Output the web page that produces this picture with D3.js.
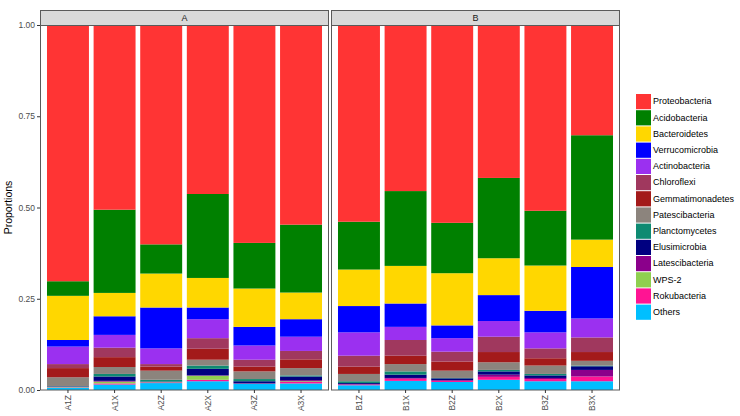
<!DOCTYPE html>
<html>
<head>
<meta charset="utf-8">
<script src="https://cdn.jsdelivr.net/npm/d3@7"></script>
<style>
  body { margin: 0; background: #fff; }
  svg { font-family: "Liberation Sans", Arial, sans-serif; }
</style>
</head>
<body>
<svg id="chart" width="740" height="416"></svg>
<script>
// --- DATA ---
const samples = ["A1Z", "A1X", "A2Z", "A2X", "A3Z", "A3X", "B1Z", "B1X", "B2Z", "B2X", "B3Z", "B3X"];
const facets = ["A", "B"];
const yTicks = [0, 0.25, 0.5, 0.75, 1];

// legend order (top of stack first)
const phyla = ["Proteobacteria", "Acidobacteria", "Bacteroidetes", "Verrucomicrobia", "Actinobacteria",
  "Chloroflexi", "Gemmatimonadetes", "Patescibacteria", "Planctomycetes", "Elusimicrobia",
  "Latescibacteria", "WPS-2", "Rokubacteria", "Others"];

const proteobacteria   = [0.702, 0.506, 0.601, 0.463, 0.597, 0.547, 0.539, 0.455, 0.542, 0.419, 0.509, 0.302];
const acidobacteria    = [0.040, 0.228, 0.080, 0.230, 0.125, 0.186, 0.131, 0.205, 0.138, 0.220, 0.150, 0.286];
const bacteroidetes    = [0.121, 0.064, 0.093, 0.081, 0.105, 0.073, 0.100, 0.103, 0.143, 0.101, 0.124, 0.075];
const verrucomicrobia  = [0.018, 0.051, 0.112, 0.032, 0.051, 0.048, 0.072, 0.064, 0.035, 0.071, 0.059, 0.141];
const actinobacteria   = [0.048, 0.035, 0.043, 0.052, 0.039, 0.039, 0.064, 0.036, 0.037, 0.043, 0.044, 0.052];
const chloroflexi      = [0.011, 0.026, 0.007, 0.029, 0.019, 0.023, 0.030, 0.043, 0.027, 0.042, 0.027, 0.040];
const gemmatimonadetes = [0.025, 0.027, 0.011, 0.030, 0.013, 0.024, 0.020, 0.023, 0.025, 0.028, 0.020, 0.024];
const patescibacteria  = [0.024, 0.019, 0.025, 0.016, 0.021, 0.020, 0.020, 0.020, 0.020, 0.021, 0.023, 0.013];
const planctomycetes   = [0.001, 0.007, 0.005, 0.009, 0.006, 0.003, 0.005, 0.009, 0.001, 0.004, 0.004, 0.002];
const elusimicrobia    = [0.001, 0.012, 0.001, 0.018, 0.006, 0.010, 0.003, 0.009, 0.005, 0.009, 0.007, 0.010];
const latescibacteria  = [0.001, 0.002, 0.001, 0.001, 0.000, 0.003, 0.001, 0.002, 0.002, 0.006, 0.003, 0.018];
const wps2             = [0.001, 0.005, 0.001, 0.011, 0.000, 0.002, 0.000, 0.000, 0.000, 0.000, 0.000, 0.000];
const rokubacteria     = [0.001, 0.003, 0.001, 0.004, 0.001, 0.004, 0.002, 0.006, 0.003, 0.008, 0.006, 0.013];
const others           = [0.006, 0.015, 0.019, 0.024, 0.017, 0.018, 0.013, 0.025, 0.022, 0.028, 0.024, 0.024];

const seriesValues = [proteobacteria, acidobacteria, bacteroidetes, verrucomicrobia, actinobacteria,
  chloroflexi, gemmatimonadetes, patescibacteria, planctomycetes, elusimicrobia,
  latescibacteria, wps2, rokubacteria, others];

const colors = ["#FF3434", "#008000", "#FFD700", "#0000FF", "#9B30F0", "#A0385E", "#A31A1A",
  "#8C847D", "#0E8A72", "#000080", "#8B008B", "#8FCF50", "#FF1493", "#00BFFF"];

// --- BUILD TABLE ---
const table = samples.map((s, i) => {
  const row = { sample: s, facet: s[0] };
  phyla.forEach((p, j) => row[p] = seriesValues[j][i]);
  return row;
});

// bottom of stack is "Others", top is Proteobacteria
const stack = d3.stack().keys(phyla.slice().reverse());
const color = d3.scaleOrdinal().domain(phyla).range(colors);

// --- LAYOUT ---
const svg = d3.select("#chart");
const panels = { A: [40, 329], B: [331, 620] };
const stripTop = 10, panelTop = 25, panelBottom = 390;
const y = d3.scaleLinear().domain([0, 1]).range([panelBottom, panelTop]);

facets.forEach(f => {
  const [x0, x1] = panels[f];
  const rows = table.filter(r => r.facet === f);
  const x = d3.scaleBand().domain(rows.map(r => r.sample)).range([x0, x1])
    .paddingInner(0.1).paddingOuter(0.15);

  // panel background
  svg.append("rect").attr("x", x0).attr("y", panelTop).attr("width", x1 - x0)
    .attr("height", panelBottom - panelTop).attr("fill", "#fff");

  const layers = stack(rows);
  svg.append("g").selectAll("g").data(layers).join("g")
    .attr("fill", d => color(d.key))
    .selectAll("rect").data(d => d).join("rect")
    .attr("x", d => x(d.data.sample))
    .attr("width", x.bandwidth())
    .attr("y", d => y(d[1]))
    .attr("height", d => Math.max(0, y(d[0]) - y(d[1])));

  // panel border
  svg.append("rect").attr("x", x0 + 0.5).attr("y", panelTop + 0.5).attr("width", x1 - x0 - 1)
    .attr("height", panelBottom - panelTop - 0.5).attr("fill", "none")
    .attr("stroke", "#5a5a5a").attr("stroke-width", 1);

  // strip
  svg.append("rect").attr("x", x0 + 0.5).attr("y", stripTop + 0.5).attr("width", x1 - x0 - 1)
    .attr("height", panelTop - stripTop).attr("fill", "#D9D9D9")
    .attr("stroke", "#5a5a5a").attr("stroke-width", 1);
  svg.append("text").attr("x", (x0 + x1) / 2).attr("y", (stripTop + panelTop) / 2 + 1)
    .attr("text-anchor", "middle").attr("dominant-baseline", "middle")
    .attr("font-size", 9).attr("fill", "#1a1a1a").text(f);

  // x axis
  const xa = svg.append("g").attr("transform", `translate(0,${panelBottom})`)
    .call(d3.axisBottom(x).tickSize(3).tickSizeOuter(0));
  xa.select(".domain").remove();
  xa.selectAll(".tick line").attr("stroke", "#333");
  xa.selectAll("text")
    .attr("transform", "rotate(-90)")
    .attr("text-anchor", "end")
    .attr("x", -5).attr("y", 0).attr("dy", "0.35em")
    .attr("font-size", 8.5).attr("fill", "#4d4d4d");
});

// y axis
const ya = svg.append("g").attr("transform", `translate(${panels.A[0]},0)`)
  .call(d3.axisLeft(y).tickValues(yTicks).tickFormat(d3.format(".2f")).tickSize(3).tickSizeOuter(0));
ya.select(".domain").remove();
ya.selectAll(".tick line").attr("stroke", "#333");
ya.selectAll("text").attr("font-size", 8.5).attr("fill", "#4d4d4d").attr("x", -5);

svg.append("text")
  .attr("transform", `translate(12,${(panelTop + panelBottom) / 2}) rotate(-90)`)
  .attr("text-anchor", "middle").attr("font-size", 10.5).attr("fill", "#000")
  .text("Proportions");

// --- LEGEND ---
const legend = svg.append("g").attr("transform", "translate(636,94)");
const item = legend.selectAll("g").data(phyla).join("g")
  .attr("transform", (d, i) => `translate(0,${i * 16.2})`);
item.append("rect").attr("width", 15).attr("height", 15.2).attr("fill", d => color(d));
item.append("text").attr("x", 17).attr("y", 8).attr("dominant-baseline", "middle")
  .attr("font-size", 9).attr("fill", "#000").text(d => d);
</script>
</body>
</html>
